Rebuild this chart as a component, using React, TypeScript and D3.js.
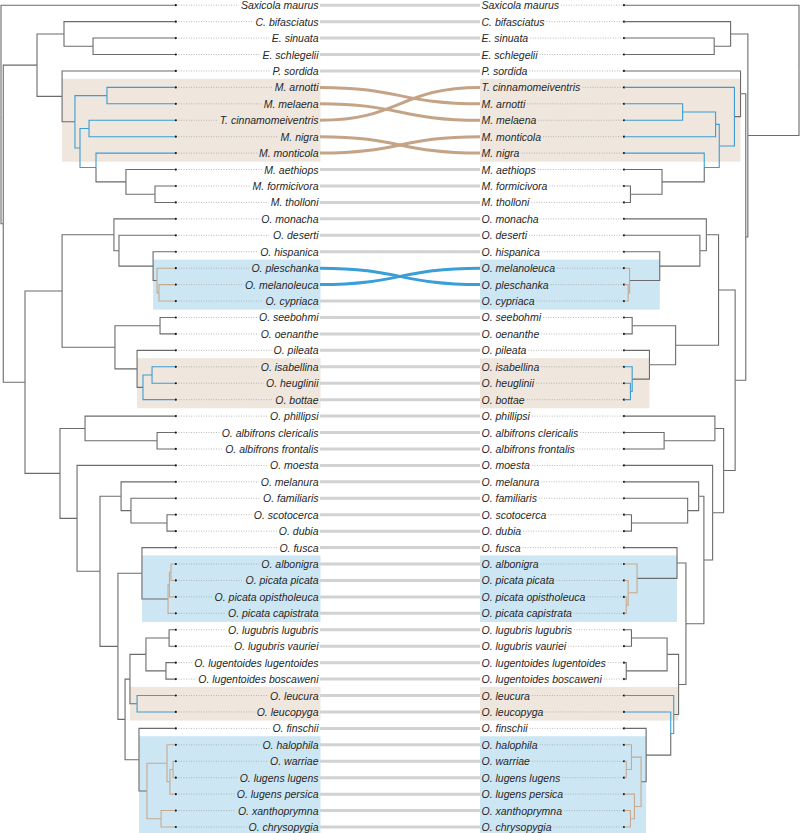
import React, { useMemo } from "react";
import * as d3 from "d3";

type TreeNode = string | [number, TreeNode, TreeNode];

// Left dendrogram: [node height (0 = tips, 1 = root), child, child]
const LEFT_TREE: TreeNode = [1.0, "Saxicola maurus",
  [0.987,
    [0.793,
      [0.638, "C. bifasciatus", [0.471, "E. sinuata", "E. schlegelii"]],
      [0.649, "P. sordida",
        [0.575,
          [0.391, "M. arnotti", "M. melaena"],
          [0.546,
            [0.494, "T. cinnamomeiventris", "M. nigra"],
            [0.454, "M. monticola",
              [0.282, "M. aethiops", [0.115, "M. formicivora", "M. tholloni"]]]]]]],
    [0.862,
      [0.649,
        [0.351, "O. monacha",
          [0.322, "O. deserti",
            [0.126, "O. hispanica",
              [0.103, "O. pleschanka", [0.092, "O. melanoleuca", "O. cypriaca"]]]]],
        [0.345,
          [0.086, "O. seebohmi", "O. oenanthe"],
          [0.218, "O. pileata",
            [0.184, [0.132, "O. isabellina", "O. heuglinii"], "O. bottae"]]]],
      [0.661,
        [0.517, "O. phillipsi", [0.103, "O. albifrons clericalis", "O. albifrons frontalis"]],
        [0.563, "O. moesta",
          [0.431,
            [0.31, "O. melanura",
              [0.253, "O. familiaris", [0.046, "O. scotocerca", "O. dubia"]]],
            [0.328,
              [0.19, "O. fusca",
                [0.04, [0.032, [0.023, "O. albonigra", "O. picata picata"], "O. picata opistholeuca"], "O. picata capistrata"]],
              [0.287,
                [0.259,
                  [0.167,
                    [0.034, "O. lugubris lugubris", "O. lugubris vauriei"],
                    [0.052, "O. lugentoides lugentoides", "O. lugentoides boscaweni"]],
                  [0.218, "O. leucura", "O. leucopyga"]],
                [0.207, "O. finschii",
                  [0.161,
                    [0.046, "O. halophila", [0.029, [0.011, "O. warriae", "O. lugens lugens"], "O. lugens persica"]],
                    [0.08, "O. xanthoprymna", "O. chrysopygia"]
                  ] // 0.161
                ] // 0.207
              ] // 0.287
            ] // 0.328
          ] // 0.431
        ] // 0.563
      ] // 0.661
    ] // 0.862
  ] // 0.987
]; // root

// Right dendrogram
const RIGHT_TREE: TreeNode = [1.0, "Saxicola maurus",
  [0.707,
    [0.608, "C. bifasciatus", [0.514, "E. sinuata", "E. schlegelii"]],
    [0.695,
      [0.665, "P. sordida",
        [0.63, "T. cinnamomeiventris",
          [0.543,
            [0.522, [0.333, "M. arnotti", "M. melaena"], "M. monticola"],
            [0.457, "M. nigra", [0.215, "M. aethiops", [0.034, "M. formicivora", "M. tholloni"]]]]]],
      [0.634,
        [0.539,
          [0.469, "O. monacha",
            [0.432, "O. deserti",
              [0.202, "O. hispanica", [0.029, "O. melanoleuca", [0.021, "O. pleschanka", "O. cypriaca"]]]]],
          [0.293,
            [0.044, "O. seebohmi", "O. oenanthe"],
            [0.143, "O. pileata", [0.044, "O. isabellina", [0.034, "O. heuglinii", "O. bottae"]]]]],
        [0.568,
          [0.518, "O. phillipsi", [0.227, "O. albifrons clericalis", "O. albifrons frontalis"]],
          [0.505, "O. moesta",
            [0.455,
              [0.425, "O. melanura", [0.362, "O. familiaris", [0.04, "O. scotocerca", "O. dubia"]]],
              [0.352,
                [0.301, "O. fusca", [0.072, "O. albonigra", [0.021, "O. picata picata", [0.01, "O. picata opistholeuca", "O. picata capistrata"]]]],
                [0.31,
                  [0.244,
                    [0.04, "O. lugubris lugubris", "O. lugubris vauriei"],
                    [0.01, "O. lugentoides lugentoides", "O. lugentoides boscaweni"]],
                  [0.282, "O. leucura",
                    [0.265, "O. leucopyga",
                      [0.124, "O. finschii",
                        [0.095,
                          [0.04, "O. halophila", [0.01, "O. warriae", "O. lugens lugens"]],
                          [0.057, "O. lugens persica", [0.034, "O. xanthoprymna", "O. chrysopygia"]]
                        ] // 0.095
                      ] // 0.124
                    ] // 0.265
                  ] // 0.282
                ] // 0.31
              ] // 0.352
            ] // 0.455
          ] // 0.505
        ] // 0.568
      ] // 0.634
    ] // 0.695
  ] // 0.707
]; // root

// Highlighted clades (kind "a": beige box / blue branches; kind "b": blue box / tan branches)
const GROUP_A1 = ["M. arnotti", "M. melaena", "T. cinnamomeiventris", "M. nigra", "M. monticola"];
const GROUP_B1 = ["O. pleschanka", "O. melanoleuca", "O. cypriaca"];
const GROUP_A2 = ["O. isabellina", "O. heuglinii", "O. bottae"];
const GROUP_B2 = ["O. albonigra", "O. picata picata", "O. picata opistholeuca", "O. picata capistrata"];
const GROUP_A3 = ["O. leucura", "O. leucopyga"];
const GROUP_B3 = ["O. halophila", "O. warriae", "O. lugens lugens", "O. lugens persica", "O. xanthoprymna", "O. chrysopygia"];
const GROUPS: { taxa: string[]; kind: "a" | "b" }[] = [
  { taxa: GROUP_A1, kind: "a" },
  { taxa: GROUP_B1, kind: "b" },
  { taxa: GROUP_A2, kind: "a" },
  { taxa: GROUP_B2, kind: "b" },
  { taxa: GROUP_A3, kind: "a" },
  { taxa: GROUP_B3, kind: "b" },
];

const W = 800;
const H = 833;
const N_ROWS = 51;
const FONT = "italic 10.5px 'Liberation Sans', Arial, sans-serif";

const STYLE = {
  branch: "#6b6b6b",
  a: { box: "#efe6de", branch: "#3c9dd2", curve: "#c4a386" },
  b: { box: "#cde6f4", branch: "#c7a98e", curve: "#3a9fd6" },
  connector: "#d2d2d2",
  dotted: "#a8a8a8",
  text: "#262626",
};

type LNode = d3.HierarchyNode<TreeNode> & { px?: number; py?: number; row?: number };

function layout(tree: TreeNode, x: d3.ScaleLinear<number, number>, y: d3.ScaleLinear<number, number>) {
  const root = d3.hierarchy<TreeNode>(tree, (d) => (Array.isArray(d) ? [d[1], d[2]] : null)) as LNode;
  root.leaves().forEach((l: any, i) => (l.row = i));
  root.eachAfter((n: any) => {
    if (n.children) {
      n.py = (n.children[0].py + n.children[n.children.length - 1].py) / 2;
      n.px = x((n.data as any)[0]);
    } else {
      n.py = y(n.row);
      n.px = x(0);
    }
  });
  return root;
}

function groupInfo(root: LNode, taxa: string[]) {
  let best: any = root;
  root.each((n: any) => {
    const lv = n.leaves().map((l: any) => l.data);
    if (taxa.every((t) => lv.includes(t)) && n.depth > best.depth) best = n;
  });
  const colored = new Set<any>();
  best.descendants().forEach((n: any) => {
    if (n === best) return;
    if (n.leaves().some((l: any) => taxa.includes(l.data))) colored.add(n);
  });
  const rows = root.leaves().filter((l: any) => taxa.includes(l.data)).map((l: any) => l.py);
  return { mrca: best, colored, yMin: d3.min(rows)!, yMax: d3.max(rows)! };
}

export default function App() {
  const y = d3.scaleLinear().domain([0, N_ROWS - 1]).range([5.2, 827]);
  const xL = d3.scaleLinear().domain([0, 1]).range([175, 1]);
  const xR = d3.scaleLinear().domain([0, 1]).range([624.5, 799]);

  const left = useMemo(() => layout(LEFT_TREE, xL, y), []);
  const right = useMemo(() => layout(RIGHT_TREE, xR, y), []);

  const measure = useMemo(() => {
    const c = document.createElement("canvas").getContext("2d")!;
    c.font = FONT;
    return (s: string) => c.measureText(s).width;
  }, []);

  const labelEndL = 318.5;
  const labelStartR = 481.5;
  const connL = 320;
  const connR = 480;
  const pad = 8.6;

  const leftInfo = GROUPS.map((g) => ({ g, ...groupInfo(left, g.taxa) }));
  const rightInfo = GROUPS.map((g) => ({ g, ...groupInfo(right, g.taxa) }));

  const colorOf = (infos: any[], n: any) => {
    for (const inf of infos) if (inf.colored.has(n)) return STYLE[inf.g.kind as "a" | "b"].branch;
    return STYLE.branch;
  };

  const rightRowOf = new Map<string, number>();
  right.leaves().forEach((l: any) => rightRowOf.set(l.data, l.py));
  const groupOf = new Map<string, "a" | "b">();
  GROUPS.forEach((g) => g.taxa.forEach((t) => groupOf.set(t, g.kind)));

  const edges = (root: LNode, infos: any[]) =>
    root.descendants().filter((n: any) => n.parent).map((n: any, i) => (
      <path key={i} d={`M${n.parent.px},${n.parent.py}V${n.py}H${n.px}`} fill="none"
        stroke={colorOf(infos, n)} strokeWidth={1.1} />
    ));

  return (
    <svg width={W} height={H} style={{ position: "absolute", left: 0, top: 0, background: "#fff" }}
      fontFamily="'Liberation Sans', Arial, sans-serif">
      {leftInfo.map((inf, i) => {
        const x0 = xL((inf.mrca.parent.data as any)[0]);
        return <rect key={"bl" + i} x={x0} y={inf.yMin - pad} width={labelEndL + 2 - x0}
          height={inf.yMax - inf.yMin + 2 * pad} fill={STYLE[inf.g.kind].box} />;
      })}
      {rightInfo.map((inf, i) => {
        const x1 = xR((inf.mrca.parent.data as any)[0]);
        return <rect key={"br" + i} x={labelStartR - 1.5} y={inf.yMin - pad} width={x1 - labelStartR + 1.5}
          height={inf.yMax - inf.yMin + 2 * pad} fill={STYLE[inf.g.kind].box} />;
      })}

      {left.leaves().map((l: any, i) => {
        const yl = l.py;
        const yr = rightRowOf.get(l.data)!;
        if (Math.abs(yl - yr) < 0.5) {
          return <path key={"c" + i} d={`M${connL},${yl}H${connR}`} stroke={STYLE.connector} strokeWidth={3} fill="none" />;
        }
        const k = groupOf.get(l.data) || "a";
        const xm = (connL + connR) / 2;
        return <path key={"c" + i} d={`M${connL},${yl}C${xm},${yl} ${xm},${yr} ${connR},${yr}`}
          stroke={STYLE[k].curve} strokeWidth={3} fill="none" />;
      })}

      {left.leaves().map((l: any, i) => {
        const w = measure(l.data);
        return (
          <g key={"ll" + i}>
            <line x1={l.px + 1} x2={labelEndL - w - 2} y1={l.py} y2={l.py} stroke={STYLE.dotted}
              strokeWidth={0.8} strokeDasharray="1,1.5" />
            <circle cx={l.px + 0.8} cy={l.py} r={1.1} fill="#111" />
            <text x={labelEndL} y={l.py} textAnchor="end" dominantBaseline="central"
              style={{ font: FONT }} fill={STYLE.text}>{l.data}</text>
          </g>
        );
      })}
      {right.leaves().map((l: any, i) => {
        const w = measure(l.data);
        return (
          <g key={"rl" + i}>
            <line x1={labelStartR + w + 2} x2={l.px - 1} y1={l.py} y2={l.py} stroke={STYLE.dotted}
              strokeWidth={0.8} strokeDasharray="1,1.5" />
            <circle cx={l.px - 0.5} cy={l.py} r={1.1} fill="#111" />
            <text x={labelStartR} y={l.py} textAnchor="start" dominantBaseline="central"
              style={{ font: FONT }} fill={STYLE.text}>{l.data}</text>
          </g>
        );
      })}

      <g>{edges(left, leftInfo)}</g>
      <g>{edges(right, rightInfo)}</g>
    </svg>
  );
}
